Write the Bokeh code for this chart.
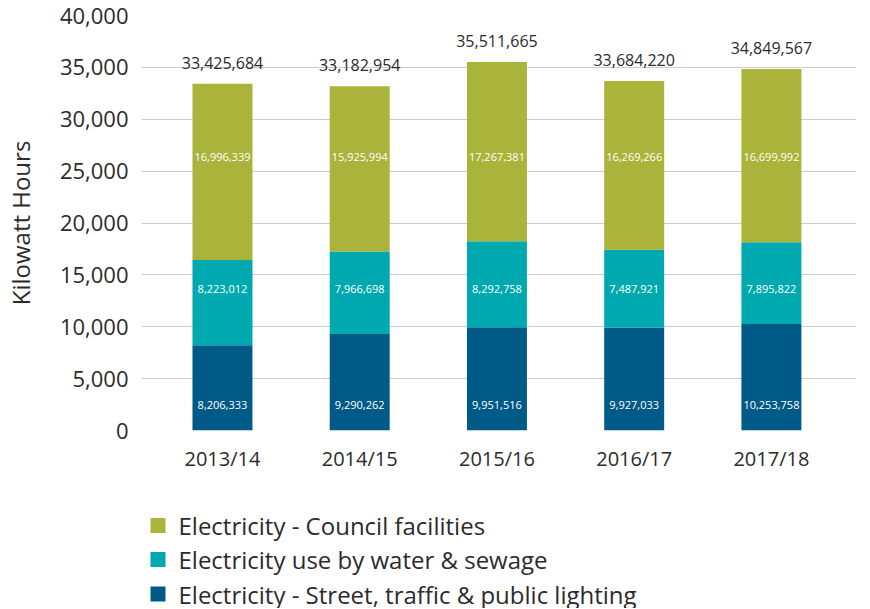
from bokeh.plotting import figure
from bokeh.layouts import column
from bokeh.models import Range1d, FixedTicker, ColumnDataSource, NumeralTickFormatter
from bokeh.core.properties import value
from bokeh.embed import file_html
from bokeh.resources import INLINE

years = ["2013/14", "2014/15", "2015/16", "2016/17", "2017/18"]
street = [8206333, 9290262, 9951516, 9927033, 10253758]
water = [8223012, 7966698, 8292758, 7487921, 7895822]
council = [16996339, 15925994, 17267381, 16269266, 16699992]
totals = [33425684, 33182954, 35511665, 33684220, 34849567]
yticks = [0, 5000, 10000, 15000, 20000, 25000, 30000, 35000, 40000]
legend_names = ["Electricity - Council facilities",
                "Electricity use by water & sewage",
                "Electricity - Street, traffic & public lighting"]

FONT = "Open Sans"
DARK = "#2b2b2b"
C_STREET, C_WATER, C_COUNCIL = "#005a87", "#00a9b0", "#aab43a"

x = list(range(len(years)))
st = [v / 1000 for v in street]
wa = [v / 1000 for v in water]
co = [v / 1000 for v in council]
tot = [v / 1000 for v in totals]

src = ColumnDataSource(dict(
    x=x, street=st, water=wa, council=co, tot=tot,
    street_lbl=[f"{v:,}" for v in street],
    water_lbl=[f"{v:,}" for v in water],
    council_lbl=[f"{v:,}" for v in council],
    tot_lbl=[f"{v:,}" for v in totals],
    y_s=[2450] * 5, y_w=[13600] * 5, y_c=[26400] * 5,
))

BORDER_L = 141
W = 856
p = figure(width=W, height=485, output_backend="svg", toolbar_location=None,
           x_range=Range1d(-0.59, 4.62), y_range=Range1d(0, 40000),
           min_border_left=BORDER_L, min_border_right=0, min_border_top=15,
           min_border_bottom=55)
p.outline_line_color = None
p.background_fill_color = "white"

p.vbar_stack(["street", "water", "council"], x="x", width=0.437, source=src,
             color=[C_STREET, C_WATER, C_COUNCIL], line_color=None)

p.text(x="x", y="tot", text="tot_lbl", source=src, text_align="center",
       text_baseline="middle", y_offset=-21, text_font=value(FONT),
       text_font_size="16px", text_color=DARK)
for ycol, lcol in [("y_s", "street_lbl"), ("y_w", "water_lbl"), ("y_c", "council_lbl")]:
    p.text(x="x", y=ycol, text=lcol, source=src, text_align="center",
           text_baseline="middle", text_font=value(FONT),
           text_font_size="11px", text_color="white")

p.xgrid.grid_line_color = None
p.ygrid.grid_line_color = "#cccccc"
p.ygrid.grid_line_width = 1
p.yaxis.ticker = FixedTicker(ticks=yticks)
p.yaxis.formatter = NumeralTickFormatter(format="0,0")
p.xaxis.ticker = FixedTicker(ticks=x)
p.xaxis.major_label_overrides = {i: y for i, y in enumerate(years)}
for ax in (p.xaxis[0], p.yaxis[0]):
    ax.axis_line_color = None
    ax.major_tick_line_color = None
    ax.minor_tick_line_color = None
    ax.major_tick_out = 0
    ax.major_tick_in = 0
    ax.minor_tick_out = 0
    ax.major_label_text_font = FONT
    ax.major_label_text_color = DARK
p.xaxis.major_label_text_font_size = "20px"
p.yaxis.major_label_text_font_size = "22px"
p.yaxis.major_label_standoff = 13
p.xaxis.major_label_standoff = 14
p.yaxis.axis_label = "Kilowatt Hours"
p.yaxis.axis_label_text_font = FONT
p.yaxis.axis_label_text_font_size = "24px"
p.yaxis.axis_label_text_font_style = "normal"
p.yaxis.axis_label_text_color = DARK
p.yaxis.axis_label_standoff = 20

# legend panel: its frame is aligned with the chart's frame by the column layout,
# so use a pixel-like x range equal to the frame width
FW = W - BORDER_L
LH = 123
lg = figure(width=W, height=LH, output_backend="svg", toolbar_location=None,
            x_range=Range1d(0, FW), y_range=Range1d(0, LH),
            x_axis_location=None, y_axis_location=None,
            min_border_left=0, min_border_right=0, min_border_top=0, min_border_bottom=0)
lg.outline_line_color = None
lg.grid.visible = False
row_y = [LH - 40, LH - 74, LH - 108.5]
lsrc = ColumnDataSource(dict(
    x=[16.5] * 3, tx=[37] * 3, y=row_y, name=legend_names,
    color=[C_COUNCIL, C_WATER, C_STREET]))
lg.scatter(x="x", y="y", source=lsrc, marker="square", size=15, color="color", line_color=None)
lg.text(x="tx", y="y", text="name", source=lsrc, text_baseline="middle", text_align="left",
        text_font=value(FONT), text_font_size="24px", text_color=DARK)

layout = column(p, lg, spacing=0)
open("out.html", "w").write(file_html(layout, INLINE))
